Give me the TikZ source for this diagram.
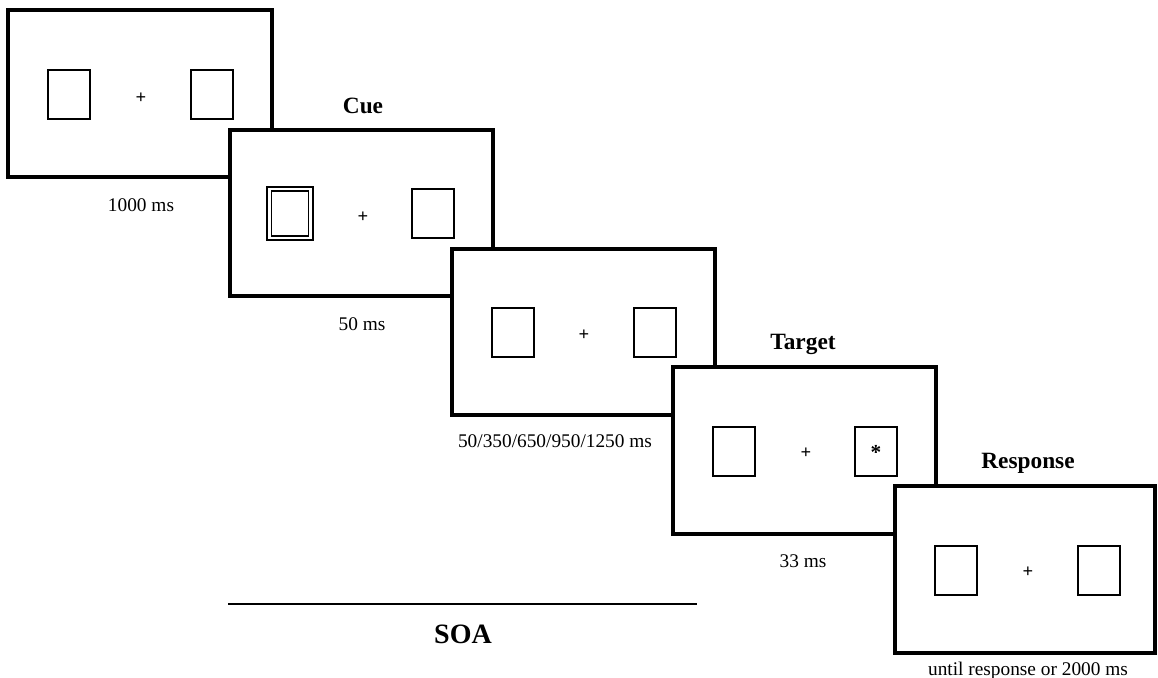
\documentclass[tikz,border=0pt]{standalone}
\usepackage{fontspec}
\setmainfont{Liberation Serif}

\tikzset{every picture/.style={line width=0.75pt}}
\tikzset{
  frame/.style={draw, line width=3pt, fill=white},
  box/.style={draw, line width=1.5pt},
  cuebox/.style={draw, line width=1.2pt},
  dur/.style={font=\fontsize{14.5}{17}\selectfont, inner sep=0pt},
  phase/.style={font=\bfseries\fontsize{17.5}{20}\selectfont, inner sep=0pt},
  fix/.style={font=\bfseries\fontsize{14}{16}\selectfont, inner sep=0pt}
}

\begin{document}
\begin{tikzpicture}[x=0.75pt,y=0.75pt,yscale=-1,xscale=1]
	\path[use as bounding box] (0,0) rectangle (1158,678); %set diagram to 1158 x 678
	
	%Shape: Rectangle [frame 1]
	\draw [frame]  (8,10) -- (272,10) -- (272,177) -- (8,177) -- cycle ;
	%Shape: Rectangle
	\draw [box]  (48,70) -- (90,70) -- (90,119) -- (48,119) -- cycle ;
	%Shape: Rectangle
	\draw [box]  (191,70) -- (233,70) -- (233,119) -- (191,119) -- cycle ;
	% Text Node
	\draw (141,103) node [anchor=base] [fix] (fixA) {+};
	
	%Shape: Rectangle [frame 2]
	\draw [frame]  (230,130) -- (493,130) -- (493,296) -- (230,296) -- cycle ;
	%Shape: Rectangle (cued, double)
	\draw [cuebox]  (267,187) -- (313,187) -- (313,240) -- (267,240) -- cycle ;
	\draw [cuebox]  (271.5,191) -- (308.5,191) -- (308.5,236) -- (271.5,236) -- cycle ;
	%Shape: Rectangle
	\draw [box]  (412,189) -- (454,189) -- (454,238) -- (412,238) -- cycle ;
	% Text Node
	\draw (363,222) node [anchor=base] [fix] (fixB) {+};
	
	%Shape: Rectangle [frame 3]
	\draw [frame]  (452,249) -- (715,249) -- (715,415) -- (452,415) -- cycle ;
	%Shape: Rectangle
	\draw [box]  (492,308) -- (534,308) -- (534,357) -- (492,357) -- cycle ;
	%Shape: Rectangle
	\draw [box]  (634,308) -- (676,308) -- (676,357) -- (634,357) -- cycle ;
	% Text Node
	\draw (584,340) node [anchor=base] [fix] (fixC) {+};
	
	%Shape: Rectangle [frame 4]
	\draw [frame]  (673,367) -- (936,367) -- (936,534) -- (673,534) -- cycle ;
	%Shape: Rectangle
	\draw [box]  (713,427) -- (755,427) -- (755,476) -- (713,476) -- cycle ;
	%Shape: Rectangle
	\draw [box]  (855,427) -- (897,427) -- (897,476) -- (855,476) -- cycle ;
	% Text Node
	\draw (806,458) node [anchor=base] [fix] (fixD) {+};
	% Text Node
	\draw (876,459) node [anchor=base] [inner sep=0pt] [font=\bfseries\fontsize{16}{18}\selectfont] (probe) {*};
	
	%Shape: Rectangle [frame 5]
	\draw [frame]  (895,486) -- (1155,486) -- (1155,653) -- (895,653) -- cycle ;
	%Shape: Rectangle
	\draw [box]  (935,546) -- (977,546) -- (977,595) -- (935,595) -- cycle ;
	%Shape: Rectangle
	\draw [box]  (1078,546) -- (1120,546) -- (1120,595) -- (1078,595) -- cycle ;
	% Text Node
	\draw (1028,577) node [anchor=base] [fix] (fixE) {+};
	
	%Straight Lines [SOA]
	\coordinate (soaL) at (228,604);
	\coordinate (soaR) at (697,604);
	\draw [line width=1.5pt]  (soaL) -- (soaR) ;
	
	% Text Node
	\draw (141,211) node [anchor=base] [dur] (tFix) {1000 ms};
	% Text Node
	\draw (363,113) node [anchor=base] [phase] (tCue) {Cue};
	% Text Node
	\draw (362,330) node [anchor=base] [dur] (tCueDur) {50 ms};
	% Text Node
	\draw (555,447) node [anchor=base] [dur] (tIsi) {50/350/650/950/1250 ms};
	% Text Node
	\draw (803,349) node [anchor=base] [phase] (tTarget) {Target};
	% Text Node
	\draw (803,567) node [anchor=base] [dur] (tTargetDur) {33 ms};
	% Text Node
	\draw (1028,468) node [anchor=base] [phase] (tResp) {Response};
	% Text Node
	\draw (1028,675) node [anchor=base] [dur] (tRespDur) {until response or 2000 ms};
	% Text Node
	\draw (463,643) node [anchor=base] [inner sep=0pt] [font=\bfseries\fontsize{21}{24}\selectfont] (tSoa) {SOA};
	
\end{tikzpicture}
\end{document}
